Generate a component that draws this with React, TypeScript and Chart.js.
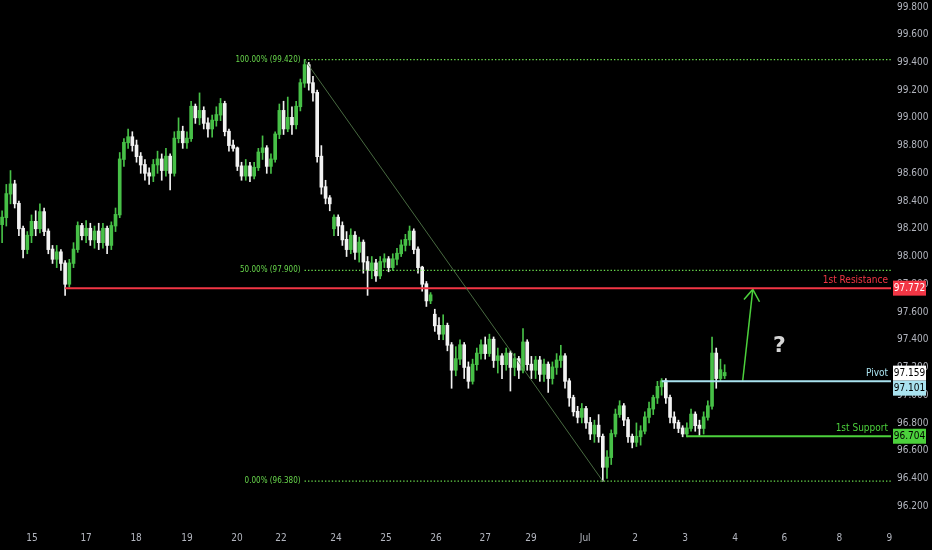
import React, { useEffect, useRef } from "react";
import { Chart, registerables } from "chart.js";

Chart.register(...registerables);

// ---- Data (2-hour candles, index 0 = first candle) ----
const opens = [
  98.23, 98.28, 98.45, 98.52, 98.38, 98.2, 98.05, 98.15, 98.25, 98.2,
  98.32, 98.18, 98.05, 97.98, 98.03, 97.95, 97.8, 97.95, 98.05, 98.22,
  98.15, 98.2, 98.12, 98.18, 98.1, 98.2, 98.08, 98.22, 98.3, 98.7,
  98.82, 98.86, 98.8, 98.72, 98.66, 98.6, 98.58, 98.66, 98.7, 98.62,
  98.72, 98.6, 98.85, 98.9, 98.82, 98.85, 99.08, 99.0, 99.05, 98.96,
  98.92, 98.98, 99.02, 99.1, 98.9, 98.8, 98.78, 98.65, 98.58, 98.65,
  98.58, 98.64, 98.75, 98.78, 98.65, 98.7, 98.88, 99.05, 98.92, 99.0,
  98.95, 99.08, 99.25, 99.38, 99.25, 99.18, 98.72, 98.5, 98.42, 98.2,
  98.28, 98.22, 98.12, 98.05, 98.15, 98.03, 98.1, 97.96, 97.9, 97.95,
  97.86, 97.96, 97.98, 97.92, 97.98, 98.02, 98.08, 98.12, 98.18, 98.05,
  97.92, 97.8, 97.68, 97.58, 97.5, 97.44, 97.5, 97.36, 97.18, 97.26,
  97.36, 97.2, 97.1, 97.22, 97.3, 97.36, 97.3, 97.4, 97.25, 97.28,
  97.22, 97.3, 97.2, 97.26, 97.18, 97.38, 97.22, 97.18, 97.25, 97.15,
  97.22, 97.12, 97.2, 97.25, 97.28, 97.1, 96.98, 96.88, 96.84, 96.9,
  96.8, 96.72, 96.78, 96.7, 96.48, 96.55, 96.72, 96.86, 96.92, 96.82,
  96.7, 96.66, 96.7, 96.74, 96.84, 96.9, 96.98, 97.06, 97.1, 96.98,
  96.84, 96.8, 96.76, 96.72, 96.76, 96.86, 96.78, 96.76, 96.84, 96.92,
  97.3, 97.12, 97.14,
];
const highs = [
  98.33, 98.52, 98.62, 98.55, 98.4, 98.22, 98.18, 98.3, 98.33, 98.38,
  98.35, 98.2, 98.08, 98.08, 98.05, 97.97, 97.98, 98.1, 98.25, 98.24,
  98.26, 98.24, 98.22, 98.24, 98.24, 98.22, 98.25, 98.35, 98.75, 98.85,
  98.92, 98.9, 98.84, 98.75, 98.7, 98.64, 98.7, 98.76, 98.74, 98.78,
  98.74, 98.9, 99.0, 98.94, 98.9, 99.12, 99.1, 99.18, 99.08, 99.0,
  99.02, 99.08, 99.14, 99.12, 98.92, 98.84, 98.79, 98.68, 98.7, 98.68,
  98.68, 98.78, 98.87, 98.8, 98.74, 98.9, 99.1, 99.12, 99.15, 99.08,
  99.12, 99.28, 99.42, 99.4, 99.3, 99.2, 98.8, 98.55, 98.44, 98.3,
  98.3, 98.25, 98.18, 98.2, 98.18, 98.14, 98.12, 98.0, 98.0, 97.98,
  98.0, 98.02, 98.0, 98.02, 98.06, 98.12, 98.16, 98.22, 98.2, 98.07,
  97.93, 97.82, 97.74, 97.62, 97.56, 97.58, 97.52, 97.38, 97.35, 97.4,
  97.38, 97.24, 97.26, 97.34, 97.4, 97.42, 97.44, 97.42, 97.34, 97.3,
  97.34, 97.32, 97.3, 97.28, 97.48, 97.4, 97.28, 97.28, 97.28, 97.26,
  97.24, 97.24, 97.3, 97.36, 97.3, 97.12, 97.0, 96.92, 96.94, 96.92,
  96.84, 96.82, 96.86, 96.72, 96.6, 96.75, 96.9, 96.96, 96.94, 96.84,
  96.72, 96.8, 96.78, 96.88, 96.95, 97.0, 97.1, 97.12, 97.12, 97.0,
  96.88, 96.82, 96.78, 96.8, 96.9, 96.88, 96.82, 96.88, 96.96, 97.42,
  97.34, 97.26, 97.22,
];
const lows = [
  98.1, 98.22, 98.38, 98.35, 98.15, 97.99, 98.02, 98.1, 98.15, 98.17,
  98.15, 98.02, 97.95, 97.92, 97.9, 97.72, 97.78, 97.92, 98.03, 98.12,
  98.1, 98.08, 98.06, 98.05, 98.06, 98.02, 98.05, 98.18, 98.28, 98.65,
  98.78, 98.76, 98.68, 98.6, 98.55, 98.52, 98.54, 98.6, 98.55, 98.58,
  98.48, 98.58, 98.82, 98.78, 98.78, 98.83, 98.96, 98.95, 98.92, 98.86,
  98.86, 98.94, 98.98, 98.87, 98.76, 98.76, 98.62, 98.55, 98.55, 98.54,
  98.56, 98.62, 98.7, 98.6, 98.6, 98.68, 98.85, 98.88, 98.9, 98.88,
  98.92, 99.05, 99.22, 99.2, 99.12, 98.68, 98.45, 98.38, 98.33, 98.15,
  98.15, 98.08, 98.0, 98.02, 97.98, 97.96, 97.88, 97.72, 97.84, 97.82,
  97.84, 97.92, 97.89, 97.9, 97.94, 98.0, 98.04, 98.08, 98.02, 97.88,
  97.75, 97.64, 97.66, 97.46, 97.4, 97.4, 97.32, 97.05, 97.14, 97.22,
  97.12, 97.05, 97.08, 97.18, 97.26, 97.26, 97.28, 97.2, 97.16, 97.12,
  97.18, 97.03, 97.14, 97.12, 97.16, 97.18, 97.12, 97.12, 97.1, 97.1,
  97.02, 97.08, 97.15, 97.2, 97.05, 96.92, 96.85, 96.8, 96.8, 96.76,
  96.68, 96.66, 96.66, 96.38, 96.4, 96.5, 96.7, 96.84, 96.78, 96.66,
  96.62, 96.63, 96.64, 96.72, 96.8, 96.86, 96.94, 97.0, 96.94, 96.8,
  96.76, 96.73, 96.7, 96.7, 96.74, 96.74, 96.71, 96.72, 96.82, 96.9,
  97.05, 97.1, 97.12,
];
const closes = [
  98.28, 98.45, 98.52, 98.38, 98.2, 98.05, 98.15, 98.25, 98.2, 98.32,
  98.18, 98.05, 97.98, 98.03, 97.95, 97.8, 97.95, 98.05, 98.22, 98.15,
  98.2, 98.12, 98.18, 98.1, 98.2, 98.08, 98.22, 98.3, 98.7, 98.82,
  98.86, 98.8, 98.72, 98.66, 98.6, 98.58, 98.66, 98.7, 98.62, 98.72,
  98.6, 98.85, 98.9, 98.82, 98.85, 99.08, 99.0, 99.05, 98.96, 98.92,
  98.98, 99.02, 99.1, 98.9, 98.8, 98.78, 98.65, 98.58, 98.65, 98.58,
  98.64, 98.75, 98.78, 98.65, 98.7, 98.88, 99.05, 98.92, 99.0, 98.95,
  99.08, 99.25, 99.38, 99.25, 99.18, 98.72, 98.5, 98.42, 98.38, 98.28,
  98.22, 98.12, 98.05, 98.15, 98.03, 98.1, 97.96, 97.9, 97.95, 97.86,
  97.96, 97.98, 97.92, 97.98, 98.02, 98.08, 98.12, 98.18, 98.05, 97.92,
  97.8, 97.68, 97.72, 97.5, 97.44, 97.5, 97.36, 97.18, 97.26, 97.36,
  97.2, 97.1, 97.22, 97.3, 97.36, 97.3, 97.4, 97.25, 97.28, 97.22,
  97.3, 97.2, 97.26, 97.18, 97.38, 97.22, 97.18, 97.25, 97.15, 97.22,
  97.12, 97.2, 97.25, 97.28, 97.1, 96.98, 96.88, 96.84, 96.9, 96.8,
  96.72, 96.78, 96.7, 96.48, 96.55, 96.72, 96.86, 96.92, 96.82, 96.7,
  96.66, 96.7, 96.74, 96.84, 96.9, 96.98, 97.06, 97.1, 96.98, 96.84,
  96.8, 96.76, 96.72, 96.76, 96.86, 96.78, 96.76, 96.84, 96.92, 97.3,
  97.12, 97.18, 97.16,
];

const xTickLabels = ["15", "17", "18", "19", "20", "22", "24", "25", "26", "27", "29", "Jul", "2", "3", "4", "6", "8", "9"];
const xTickPositions = [7.1, 20, 31.9, 44, 55.9, 66.4, 79.5, 91.4, 103.3, 115, 125.9, 138.8, 150.7, 162.6, 174.5, 186.2, 199.3, 211.2];
const yTickValues = [96.2, 96.4, 96.6, 96.8, 97.0, 97.2, 97.4, 97.6, 97.8, 98.0, 98.2, 98.4, 98.6, 98.8, 99.0, 99.2, 99.4, 99.6, 99.8];

const xMin = -0.5;
const xMax = 211.6;
const yMin = 96.1;
const yMax = 99.85;

const resistanceLevel = 97.772;
const pivotLevel = 97.101;
const supportLevel = 96.704;
const lastPrice = 97.159;
const resistanceStart = 15;
const pivotStart = 157;
const supportStart = 163;

const fibLevels = [99.42, 97.9, 96.38];
const fibLabels = ["100.00% (99.420)", "50.00% (97.900)", "0.00% (96.380)"];
const fibStart = 72;
const fibEnd = 143;

const arrowShaft = [
  { x: 176.3, y: 97.104 },
  { x: 178.7, y: 97.763 },
];
const arrowHead = [
  { x: 176.6, y: 97.691 },
  { x: 178.7, y: 97.763 },
  { x: 180.3, y: 97.674 },
];
const questionPos = { x: 185, y: 97.35 };

const FONT = "'Liberation Sans Narrow', 'DejaVu Sans Condensed', 'Arial Narrow', sans-serif";
const UP = "#47c047";
const DOWN = "#f2f2f2";
const FIB_COLOR = "rgba(104, 215, 76, 1)";
const RED = "#f23645";
const BLUE = "#a9e2ef";
const GREEN = "#4cd13c";

const overlayPlugin = {
  id: "overlay",
  afterDraw(chart: any) {
    const { ctx, chartArea, scales } = chart;
    const xs = scales.x;
    const ys = scales.y;
    ctx.save();

    // Fib labels
    ctx.font = `8px ${FONT}`;
    ctx.fillStyle = FIB_COLOR;
    ctx.textAlign = "right";
    ctx.textBaseline = "middle";
    const fx = xs.getPixelForValue(fibStart) - 4;
    fibLevels.forEach((lv, i) => {
      ctx.fillText(fibLabels[i], fx, ys.getPixelForValue(lv));
    });

    // Level labels
    ctx.font = `10px ${FONT}`;
    ctx.textBaseline = "alphabetic";
    const lx = chartArea.right - 3;
    ctx.fillStyle = RED;
    ctx.fillText("1st Resistance", lx, ys.getPixelForValue(resistanceLevel) - 5);
    ctx.fillStyle = BLUE;
    ctx.fillText("Pivot", lx, ys.getPixelForValue(pivotLevel) - 5);
    ctx.fillStyle = GREEN;
    ctx.fillText("1st Support", lx, ys.getPixelForValue(supportLevel) - 5);

    // Question mark
    ctx.font = `bold 22px 'DejaVu Sans', sans-serif`;
    ctx.fillStyle = "#d6d6d6";
    ctx.textAlign = "center";
    ctx.textBaseline = "middle";
    ctx.fillText("?", xs.getPixelForValue(questionPos.x), ys.getPixelForValue(questionPos.y));

    // Price boxes on axis
    const bx = chartArea.right + 2;
    const bw = 33;
    const bh = 15;
    const drawBox = (yc: number, bg: string, fg: string, text: string) => {
      ctx.fillStyle = bg;
      ctx.fillRect(bx, yc - bh / 2, bw, bh);
      ctx.fillStyle = fg;
      ctx.font = `10px ${FONT}`;
      ctx.textAlign = "center";
      ctx.textBaseline = "middle";
      ctx.fillText(text, bx + bw / 2, yc + 0.5);
    };
    drawBox(ys.getPixelForValue(resistanceLevel), RED, "#ffffff", resistanceLevel.toFixed(3));
    const lastY = ys.getPixelForValue(lastPrice);
    drawBox(lastY, "#ffffff", "#000000", lastPrice.toFixed(3));
    const pivY = Math.max(ys.getPixelForValue(pivotLevel), lastY + bh);
    drawBox(pivY, BLUE, "#000000", pivotLevel.toFixed(3));
    drawBox(ys.getPixelForValue(supportLevel), GREEN, "#000000", supportLevel.toFixed(3));

    ctx.restore();
  },
};

export default function App() {
  const canvasRef = useRef<HTMLCanvasElement | null>(null);

  useEffect(() => {
    document.body.style.margin = "0";
    document.body.style.background = "#000";
    const canvas = canvasRef.current;
    if (!canvas) return;

    const colors = closes.map((c, i) => (c >= opens[i] ? UP : DOWN));
    const wickData = highs.map((h, i) => ({ x: i, y: [lows[i], h] }));
    const bodyData = closes.map((c, i) => ({ x: i, y: [Math.min(opens[i], c), Math.max(opens[i], c) + 0.004] }));

    const lineDs = (data: any[], color: string, width: number, dash: number[] = []) => ({
      type: "line" as const,
      data,
      borderColor: color,
      borderWidth: width,
      borderDash: dash,
      pointRadius: 0,
      tension: 0,
      fill: false,
      order: 0,
    });

    const chart = new Chart(canvas, {
      type: "bar",
      data: {
        datasets: [
          {
            type: "bar",
            data: wickData as any,
            backgroundColor: colors,
            barThickness: 1,
            grouped: false,
            order: 3,
          } as any,
          {
            type: "bar",
            data: bodyData as any,
            backgroundColor: colors,
            barThickness: 3,
            grouped: false,
            order: 2,
          } as any,
          ...fibLevels.map((lv) =>
            lineDs([{ x: fibStart, y: lv }, { x: xMax, y: lv }], FIB_COLOR, 1.4, [1.4, 2])
          ),
          lineDs([{ x: fibStart, y: fibLevels[0] }, { x: fibEnd, y: fibLevels[2] }], "rgba(85,125,75,0.85)", 1),
          lineDs([{ x: resistanceStart, y: resistanceLevel }, { x: xMax, y: resistanceLevel }], RED, 2),
          lineDs([{ x: pivotStart, y: pivotLevel }, { x: xMax, y: pivotLevel }], BLUE, 2),
          lineDs([{ x: supportStart, y: supportLevel }, { x: xMax, y: supportLevel }], GREEN, 2),
          lineDs(arrowShaft, GREEN, 1.5),
          lineDs(arrowHead, GREEN, 1.5),
        ] as any,
      },
      options: {
        animation: false,
        responsive: true,
        maintainAspectRatio: false,
        layout: { padding: 0 },
        plugins: {
          legend: { display: false },
          tooltip: { enabled: false },
        },
        scales: {
          x: {
            type: "linear",
            min: xMin,
            max: xMax,
            offset: false,
            grid: { display: false, drawTicks: false },
            border: { display: false },
            afterBuildTicks: (scale: any) => {
              scale.ticks = xTickPositions.map((v) => ({ value: v }));
            },
            afterFit: (scale: any) => {
              scale.height = 30;
              scale.paddingLeft = 0;
              scale.paddingRight = 0;
            },
            ticks: {
              autoSkip: false,
              maxRotation: 0,
              padding: 12,
              color: "#b2b5be",
              font: { family: FONT, size: 10 },
              callback: (_v: any, idx: number) => xTickLabels[idx],
            },
          },
          y: {
            type: "linear",
            position: "right",
            min: yMin,
            max: yMax,
            beginAtZero: false,
            grid: { display: false, drawTicks: false },
            border: { display: false },
            afterBuildTicks: (scale: any) => {
              scale.ticks = yTickValues.map((v) => ({ value: v }));
            },
            afterFit: (scale: any) => {
              scale.width = 41;
              scale.paddingTop = 0;
              scale.paddingBottom = 0;
            },
            ticks: {
              padding: 6,
              color: "#b2b5be",
              font: { family: FONT, size: 10 },
              callback: (v: any) => Number(v).toFixed(3),
            },
          },
        },
      } as any,
      plugins: [overlayPlugin],
    });

    return () => chart.destroy();
  }, []);

  return (
    <div style={{ width: 932, height: 550, background: "#000", position: "relative" }}>
      <canvas ref={canvasRef} />
    </div>
  );
}
